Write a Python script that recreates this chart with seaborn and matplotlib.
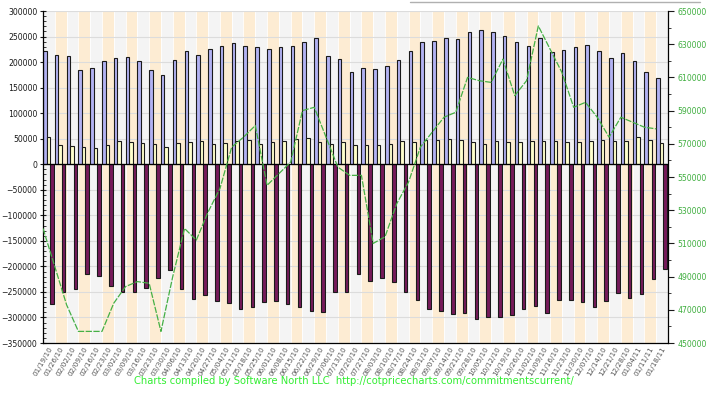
import pandas as pd
import matplotlib.pyplot as plt
import matplotlib.ticker as mticker
from matplotlib.lines import Line2D
import seaborn as sns

# Weekly report dates
dates = ['01/19/10', '01/26/10', '02/02/10', '02/09/10', '02/16/10', '02/23/10', '03/02/10',
         '03/09/10', '03/16/10', '03/23/10', '03/30/10', '04/06/10', '04/13/10', '04/20/10',
         '04/27/10', '05/04/10', '05/11/10', '05/18/10', '05/25/10', '06/01/10', '06/08/10',
         '06/15/10', '06/22/10', '06/29/10', '07/06/10', '07/13/10', '07/20/10', '07/27/10',
         '08/03/10', '08/10/10', '08/17/10', '08/24/10', '08/31/10', '09/07/10', '09/14/10',
         '09/21/10', '09/28/10', '10/05/10', '10/12/10', '10/19/10', '10/26/10', '11/02/10',
         '11/09/10', '11/16/10', '11/23/10', '11/30/10', '12/07/10', '12/14/10', '12/21/10',
         '12/28/10', '01/04/11', '01/11/11', '01/18/11']

# Net positions (left axis)
blue = [222000, 213000, 211000, 184000, 189000, 202000, 208000, 209000, 202000, 185000,
        174000, 205000, 222000, 213000, 226000, 232000, 237000, 232000, 230000, 226000,
        230000, 232000, 239000, 247000, 211000, 206000, 180000, 189000, 186000, 192000,
        204000, 222000, 239000, 241000, 247000, 245000, 259000, 262000, 258000, 251000,
        240000, 232000, 247000, 220000, 223000, 230000, 234000, 222000, 208000, 217000,
        202000, 180000, 168000]
cream = [54000, 38000, 35000, 33000, 31000, 38000, 45000, 43000, 41000, 40000,
         34000, 42000, 43000, 46000, 40000, 42000, 46000, 47000, 40000, 43000,
         46000, 49000, 51000, 44000, 40000, 43000, 38000, 38000, 38000, 40000,
         45000, 43000, 47000, 48000, 49000, 48000, 44000, 40000, 45000, 43000,
         43000, 46000, 45000, 46000, 43000, 43000, 46000, 48000, 46000, 45000,
         54000, 47000, 42000]
purple = [-274000, -251000, -244000, -215000, -218000, -238000, -251000, -251000, -242000, -223000,
          -207000, -244000, -264000, -256000, -267000, -272000, -284000, -280000, -269000, -267000,
          -274000, -280000, -288000, -290000, -251000, -251000, -215000, -228000, -222000, -231000,
          -251000, -266000, -284000, -287000, -293000, -292000, -303000, -300000, -300000, -295000,
          -284000, -277000, -291000, -266000, -266000, -270000, -279000, -267000, -252000, -261000,
          -255000, -225000, -205000]

# Open interest (right axis)
line = [519000, 496000, 473000, 457000, 457000, 457000, 474000, 484000, 487000, 486000,
        457000, 490000, 519000, 512000, 529000, 543000, 568000, 574000, 581000, 545000,
        552000, 559000, 590000, 592000, 574000, 556000, 551000, 551000, 510000, 514000,
        534000, 547000, 568000, 577000, 586000, 589000, 610000, 608000, 607000, 621000,
        599000, 608000, 641000, 627000, 613000, 592000, 595000, 586000, 574000, 586000,
        583000, 580000, 579000]

n = len(dates)
df = pd.DataFrame({
    'date': dates * 3,
    'series': ['blue'] * n + ['cream'] * n + ['purple'] * n,
    'value': blue + cream + purple,
})

sns.set_theme(style='ticks')
plt.rcParams['font.family'] = ['DejaVu Sans']

fig = plt.figure(figsize=(7.17, 3.96), dpi=100)
ax = fig.add_axes([0.060, 0.1338, 0.8717, 0.8384])

# alternating weekly background bands
for i in range(n):
    ax.axvspan(i - 0.45, i + 0.55, color='#f4f4f4' if i % 2 == 0 else '#fdecd3',
               lw=0, zorder=0.2)
    ax.axvline(i - 0.45, color='white', lw=0.6, zorder=0.3)

sns.barplot(data=df, x='date', y='value', hue='series', order=dates,
            hue_order=['blue', 'cream', 'purple'],
            palette={'blue': '#b2b2f2', 'cream': '#ffffcc', 'purple': '#761a5a'},
            saturation=1, width=0.9, errorbar=None, legend=False,
            edgecolor='#1a1a1a', linewidth=0.8, ax=ax, zorder=1)

ax.axhline(0, color='black', lw=0.9, zorder=1.5)
ax.set_xlim(-0.45, n - 0.45)
ax.set_ylim(-350000, 300000)
ax.yaxis.set_major_locator(mticker.MultipleLocator(50000))
ax.yaxis.set_minor_locator(mticker.MultipleLocator(10000))
ax.yaxis.set_major_formatter(mticker.StrMethodFormatter('{x:.0f}'))
ax.set_axisbelow(True)
ax.yaxis.grid(True, color='#dcdcdc', lw=0.8)
ax.set_xlabel('')
ax.set_ylabel('')
ax.tick_params(axis='y', which='major', direction='inout', length=5, width=0.8,
               labelsize=5.6, colors='#1a1a1a', pad=1.5)
ax.tick_params(axis='y', which='minor', direction='in', length=2.5, width=0.6, color='#1a1a1a')
ax.tick_params(axis='x', length=0, labelsize=5.2, labelcolor='#555555', pad=2)
ax.set_xticks(range(n))
ax.set_xticklabels(dates, rotation=60, ha='right', rotation_mode='anchor')
for side in ['left', 'bottom']:
    ax.spines[side].set_color('black')
    ax.spines[side].set_linewidth(0.9)
ax.spines['top'].set_visible(False)
ax.spines['right'].set_visible(False)

# open interest line on right axis
ax2 = ax.twinx()
pos = [i - 0.45 for i in range(n)]
sns.lineplot(x=pos, y=line, ax=ax2, color='#45b045', lw=0.9, dashes=False,
             linestyle=(0, (5, 1.2)))
ax2.set_ylim(450000, 650000)
ax2.yaxis.set_major_locator(mticker.MultipleLocator(20000, offset=10000))
ax2.yaxis.set_minor_locator(mticker.MultipleLocator(10000))
ax2.yaxis.set_major_formatter(mticker.StrMethodFormatter('{x:.0f}'))
ax2.tick_params(axis='y', which='major', direction='out', length=4, width=0.8,
                labelsize=5.6, labelcolor='#3fae3f', color='#1a1a1a', pad=3)
ax2.tick_params(axis='y', which='minor', direction='out', length=2.5, width=0.6, color='#1a1a1a')
ax2.spines['right'].set_color('black')
ax2.spines['right'].set_linewidth(0.9)
for side in ['top', 'left', 'bottom']:
    ax2.spines[side].set_visible(False)
ax2.set_ylabel('')

fig.text(0.494, 0.038,
         'Charts compiled by Software North LLC  http://cotpricecharts.com/commitmentscurrent/',
         color='#33ee33', fontsize=7.2, ha='center', va='center')
fig.add_artist(Line2D([410 / 717, 700 / 717], [1 - 2 / 396] * 2, color='#b0b0b0', lw=1))

plt.savefig('out.png', dpi=100)
